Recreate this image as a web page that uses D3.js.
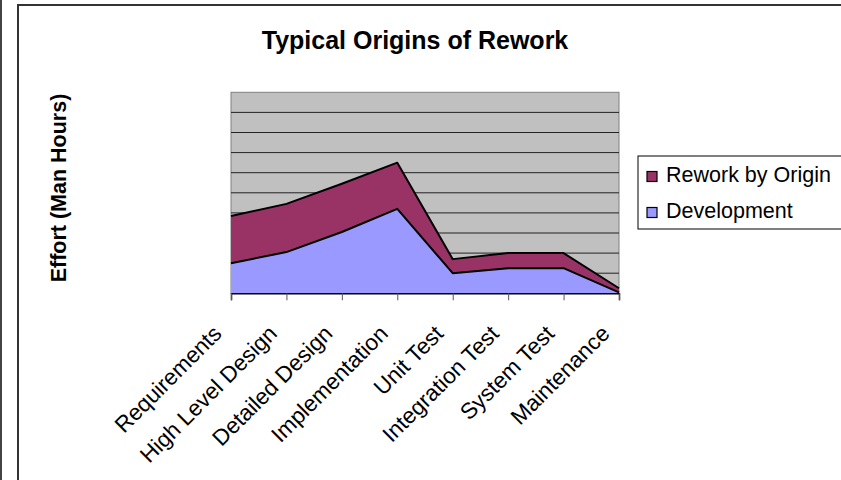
<!DOCTYPE html>
<html><head><meta charset="utf-8">
<script src="https://cdn.jsdelivr.net/npm/d3@7"></script>
<style>body{margin:0;background:#fff;}svg{display:block;}</style>
</head><body>
<svg id="c" width="841" height="480"></svg>
<script>
const categories = ["Requirements","High Level Design","Detailed Design","Implementation","Unit Test","Integration Test","System Test","Maintenance"];
const development = [15, 20.5, 30.5, 42, 10, 12.5, 12.5, 0.5];
const rework = [23.5, 24, 24, 23, 7, 7.5, 7.5, 2];
const yTicks = [0,10,20,30,40,50,60,70,80,90,100];
const seriesNames = ["Rework by Origin","Development"];
const seriesColors = ["#993366","#9999FF"];

const svg = d3.select("#c");
const W = 841, H = 480;
const plot = {l:231, r:619, t:92.3, b:293.3};

// outer frame
svg.append("line").attr("x1",1).attr("x2",1).attr("y1",0).attr("y2",H).attr("stroke","#444").attr("stroke-width",2);
svg.append("path").attr("d",`M18,${H}V5H${W}`).attr("fill","none").attr("stroke","#333").attr("stroke-width",2);

const x = d3.scalePoint().domain(categories).range([plot.l, plot.r]);
const y = d3.scaleLinear().domain([0,100]).range([plot.b, plot.t]);

// plot area
svg.append("rect").attr("x",plot.l).attr("y",plot.t).attr("width",plot.r-plot.l).attr("height",plot.b-plot.t)
  .attr("fill","#C0C0C0").attr("stroke","#808080").attr("stroke-width",1);

// gridlines
svg.append("g").selectAll("line").data(yTicks.slice(1,-1)).join("line")
  .attr("x1",plot.l).attr("x2",plot.r).attr("y1",d=>y(d)).attr("y2",d=>y(d))
  .attr("stroke","#222").attr("stroke-width",1);

// stacked data
const rows = categories.map((c,i)=>({cat:c, dev:development[i], rew:rework[i]}));
const stack = d3.stack().keys(["dev","rew"])(rows);
const area = d3.area().x(d=>x(d.data.cat)).y0(d=>y(d[0])).y1(d=>y(d[1]));
const line = d3.line().x(d=>x(d.data.cat)).y(d=>y(d[1]));
const colorOf = {dev:seriesColors[1], rew:seriesColors[0]};
stack.forEach(s=>{
  svg.append("path").datum(s).attr("d",area).attr("fill",colorOf[s.key]);
});
stack.forEach(s=>{
  svg.append("path").datum(s).attr("d",line).attr("fill","none").attr("stroke","#000").attr("stroke-width",2).attr("stroke-linejoin","round");
});

// x axis
const xAxis = d3.axisBottom(x).tickSize(7).tickFormat("");
const gx = svg.append("g").attr("transform",`translate(0,${plot.b})`).call(xAxis);
gx.select(".domain").attr("stroke","#000").attr("stroke-width",1.5);
gx.selectAll(".tick line").attr("stroke","#555");

svg.append("g").selectAll("text").data(categories).join("text")
  .attr("transform",d=>`translate(${x(d)-8},335) rotate(-45)`)
  .attr("text-anchor","end")
  .attr("font-family","Liberation Sans, Arial, sans-serif")
  .attr("font-size",22.5)
  .attr("fill","#000")
  .text(d=>d);

// title
svg.append("text").attr("x",415).attr("y",49).attr("text-anchor","middle")
  .attr("font-family","Liberation Sans, Arial, sans-serif").attr("font-weight","bold").attr("font-size",25)
  .text("Typical Origins of Rework");

// y label
svg.append("text").attr("transform","translate(66,188) rotate(-90)").attr("text-anchor","middle")
  .attr("font-family","Liberation Sans, Arial, sans-serif").attr("font-weight","bold").attr("font-size",21.5)
  .text("Effort (Man Hours)");

// legend
const lg = svg.append("g");
lg.append("rect").attr("x",638).attr("y",156).attr("width",220).attr("height",73).attr("fill","#fff").attr("stroke","#000").attr("stroke-width",1);
const items = lg.selectAll("g").data(seriesNames).join("g").attr("transform",(d,i)=>`translate(647,${171.5+i*36})`);
items.append("rect").attr("width",10).attr("height",10).attr("fill",(d,i)=>seriesColors[i]).attr("stroke","#000").attr("stroke-width",1.2);
items.append("text").attr("x",19).attr("y",10).attr("font-family","Liberation Sans, Arial, sans-serif").attr("font-size",21.5).text(d=>d);
</script>
</body></html>
